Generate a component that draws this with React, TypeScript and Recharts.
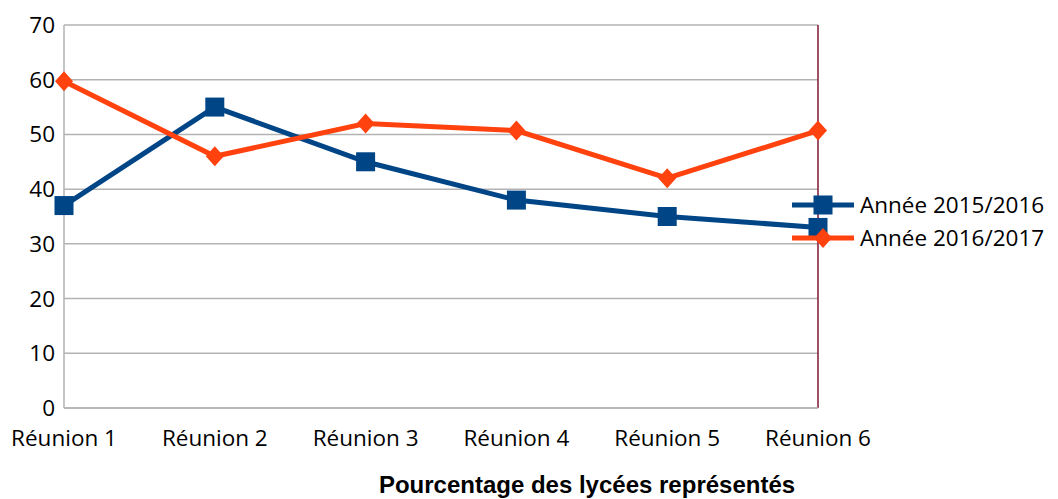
import { LineChart, Line, XAxis, YAxis, CartesianGrid, ReferenceLine } from "recharts";

// ─── Data ────────────────────────────────────────────────
const CATEGORIES = ["Réunion 1", "Réunion 2", "Réunion 3", "Réunion 4", "Réunion 5", "Réunion 6"];
const SERIES_2015 = [37, 55, 45, 38, 35, 33];
const SERIES_2016 = [59.7, 46, 52, 50.7, 42, 50.7];
const Y_TICKS = [0, 10, 20, 30, 40, 50, 60, 70];
const LABEL_2015 = "Année 2015/2016";
const LABEL_2016 = "Année 2016/2017";
const X_TITLE = "Pourcentage des lycées représentés";

const BLUE = "#004586";
const ORANGE = "#ff420e";
const GRID = "#b3b3b3";
const FONT = "'Open Sans', Lato, sans-serif";
const FONT_SIZE = 22.5;

const chartData = CATEGORIES.map((name, i) => ({
  name,
  a: SERIES_2015[i],
  b: SERIES_2016[i],
}));

// ─── Markers ─────────────────────────────────────────────
function SquareDot(props: any) {
  const { cx, cy } = props;
  if (cx == null || cy == null) return null;
  return <rect x={cx - 9.5} y={cy - 9.5} width={19} height={19} fill={BLUE} />;
}

function DiamondDot(props: any) {
  const { cx, cy } = props;
  if (cx == null || cy == null) return null;
  return (
    <path
      d={`M${cx},${cy - 10} L${cx + 9},${cy} L${cx},${cy + 10} L${cx - 9},${cy} Z`}
      fill={ORANGE}
    />
  );
}

// ─── Legend ──────────────────────────────────────────────
function LegendRow({ color, label, marker }: { color: string; label: string; marker: "square" | "diamond" }) {
  return (
    <div style={{ display: "flex", alignItems: "center", height: 33 }}>
      <svg width={62} height={22} style={{ display: "block" }}>
        <line x1={0} y1={11} x2={62} y2={11} stroke={color} strokeWidth={5} />
        {marker === "square" ? (
          <rect x={21.5} y={1.5} width={19} height={19} fill={color} />
        ) : (
          <path d="M31,1 L40,11 L31,21 L22,11 Z" fill={color} />
        )}
      </svg>
      <span style={{ marginLeft: 6, fontSize: FONT_SIZE, color: "#000", fontFamily: FONT, whiteSpace: "nowrap" }}>
        {label}
      </span>
    </div>
  );
}

// ─── Component ───────────────────────────────────────────
export default function App() {
  return (
    <div style={{ position: "absolute", left: 0, top: 0, width: 1058, height: 499, background: "#fff", overflow: "hidden" }}>
      <LineChart
        width={1058}
        height={499}
        data={chartData}
        margin={{ top: 25, right: 240, left: 0, bottom: 0 }}
      >
        <CartesianGrid vertical={false} stroke={GRID} strokeWidth={1.5} />
        <XAxis
          dataKey="name"
          height={91}
          axisLine={{ stroke: GRID, strokeWidth: 1.5 }}
          tickLine={false}
          tick={{ fontSize: FONT_SIZE, fill: "#000", fontFamily: FONT }}
          tickMargin={16}
          interval={0}
        />
        <YAxis
          width={64}
          domain={[0, 70]}
          ticks={Y_TICKS}
          axisLine={{ stroke: GRID, strokeWidth: 1.5 }}
          tickLine={false}
          tick={{ fontSize: FONT_SIZE, fill: "#000", fontFamily: FONT }}
          tickMargin={3}
        />
        <ReferenceLine x={CATEGORIES[CATEGORIES.length - 1]} stroke="#7f1734" strokeWidth={1.5} />
        <Line
          type="linear"
          dataKey="a"
          stroke={BLUE}
          strokeWidth={5}
          dot={<SquareDot />}
          activeDot={false}
          isAnimationActive={false}
        />
        <Line
          type="linear"
          dataKey="b"
          stroke={ORANGE}
          strokeWidth={5}
          dot={<DiamondDot />}
          activeDot={false}
          isAnimationActive={false}
        />
      </LineChart>

      {/* Legend */}
      <div style={{ position: "absolute", left: 792, top: 188 }}>
        <LegendRow color={BLUE} label={LABEL_2015} marker="square" />
        <LegendRow color={ORANGE} label={LABEL_2016} marker="diamond" />
      </div>

      {/* Axis title */}
      <div
        style={{
          position: "absolute",
          left: 337,
          width: 500,
          top: 471,
          textAlign: "center",
          fontFamily: "'Liberation Sans', Arial, sans-serif",
          fontWeight: "bold",
          fontSize: 24,
          lineHeight: "27px",
          color: "#000",
          whiteSpace: "nowrap",
        }}
      >
        {X_TITLE}
      </div>
    </div>
  );
}
